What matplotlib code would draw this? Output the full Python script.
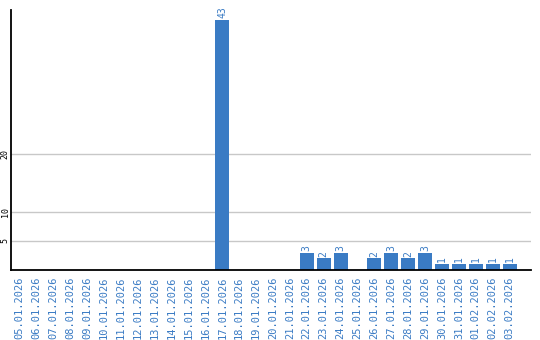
import matplotlib
matplotlib.use("Agg")
import matplotlib.pyplot as plt

dates = ["05.01.2026", "06.01.2026", "07.01.2026", "08.01.2026", "09.01.2026",
         "10.01.2026", "11.01.2026", "12.01.2026", "13.01.2026", "14.01.2026",
         "15.01.2026", "16.01.2026", "17.01.2026", "18.01.2026", "19.01.2026",
         "20.01.2026", "21.01.2026", "22.01.2026", "23.01.2026", "24.01.2026",
         "25.01.2026", "26.01.2026", "27.01.2026", "28.01.2026", "29.01.2026",
         "30.01.2026", "31.01.2026", "01.02.2026", "02.02.2026", "03.02.2026"]
counts = [0, 0, 0, 0, 0, 0, 0, 0, 0, 0, 0, 0, 43, 0, 0,
          0, 0, 3, 2, 3, 0, 2, 3, 2, 3, 1, 1, 1, 1, 1]
yticks = [5, 10, 20]

blue = "#3a7bc4"
mono = "DejaVu Sans Mono"

fig = plt.figure(figsize=(5.4, 3.4), dpi=100)
ax = fig.add_axes([11/540, 70/340, 520/540, 260/340])

x = list(range(len(dates)))
ax.bar(x, counts, width=0.83, color=blue, zorder=3)

for xi, v in zip(x, counts):
    if v > 0:
        ax.text(xi, v + 0.3, str(v), rotation=90, ha="center", va="bottom",
                color=blue, fontsize=7, family=mono)

ax.set_xlim(-0.5, 30.27)
ax.set_ylim(0, 44.7)
ax.set_yticks(yticks)
ax.set_yticklabels([str(t) for t in yticks], rotation=90, va="center",
                   ha="right", fontsize=6, family=mono)
ax.set_xticks(x)
ax.set_xticklabels(dates, rotation=90, color=blue, fontsize=7.5, family=mono)
ax.tick_params(axis="x", length=0, pad=5)
ax.tick_params(axis="y", length=0, pad=1)
ax.grid(axis="y", color="#c8c8c8", linewidth=1, zorder=0)

for s in ["top", "right"]:
    ax.spines[s].set_visible(False)
ax.spines["left"].set_linewidth(1.3)
ax.spines["bottom"].set_linewidth(1.3)
ax.spines["bottom"].set_zorder(4)

plt.savefig("out.png", dpi=100)
plt.close()
